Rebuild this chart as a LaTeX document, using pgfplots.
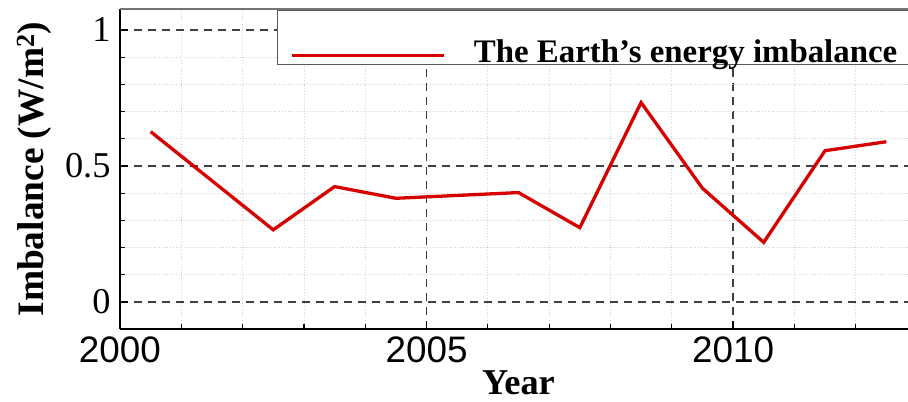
\documentclass[border=0pt]{standalone}
\usepackage{fontspec}
\setmainfont{Liberation Serif}
\newfontfamily\arialfont{Liberation Sans}
\usepackage{pgfplots}
\pgfplotsset{compat=1.18}
\definecolor{lineRed}{RGB}{214,0,0}

\begin{document}
\begin{tikzpicture}
\begin{axis}[
  at={(0,0)}, anchor=south west,
  scale only axis,
  width=797bp, height=320.1bp,
  xmin=2000, xmax=2013, ymin=-0.1, ymax=1.077,
  axis x line*=bottom, axis y line*=left,
  axis line style={-, black, line width=1.5bp},
  xtick={2000,2005,2010}, xticklabels={2000,2005,2010},
  ytick={0,0.5,1}, yticklabels={0,0.5,1},
  minor xtick={2001,2002,2003,2004,2006,2007,2008,2009,2011,2012},
  minor ytick={0.1,0.2,0.3,0.4,0.6,0.7,0.8,0.9},
  tick align=inside,
  major tick length=8bp, minor tick length=5bp,
  every tick/.style={black, line width=1.2bp},
  grid=both,
  major grid style={black!75, line width=1.2bp, dash pattern=on 8bp off 6bp},
  minor grid style={black!18, line width=0.8bp, dotted},
  xticklabel style={font=\arialfont\fontsize{37}{40}\selectfont, yshift=-4bp},
  yticklabel style={font=\fontsize{36.5}{40}\selectfont, xshift=-6bp},
  xlabel={\textbf{Year}},
  ylabel={\textbf{Imbalance (W/m\textsuperscript{2})}},
  xlabel style={font=\fontsize{36.5}{40}\selectfont, at={(axis description cs:0.5,-0.205)}, anchor=base},
  ylabel style={font=\fontsize{37.5}{40}\selectfont, at={(axis description cs:-0.0966,0.5)}, anchor=base},
  legend style={at={(axis description cs:0.197,0.9966)}, anchor=north west,
    draw=black!65, line width=1.2bp, fill=white,
    inner xsep=13bp, inner ysep=0bp,
    nodes={inner sep=0bp},
    /tikz/every odd column/.append style={column sep=28bp},
    font=\bfseries\fontsize{33}{36}\selectfont},
  legend cell align=left,
  legend image code/.code={\draw[#1] (0bp,-18bp) -- (152bp,-18bp);},
]
\addplot[lineRed, line width=3.3bp] coordinates {
  (2000.5,0.626) (2002.5,0.265) (2003.5,0.424) (2004.5,0.381)
  (2006.5,0.402) (2007.5,0.273) (2008.5,0.733) (2009.5,0.418)
  (2010.5,0.219) (2011.5,0.556) (2012.5,0.589)};
\addlegendentry{\rule[-17bp]{0pt}{69bp}The Earth’s energy imbalance\hspace*{20bp}}
\draw[black!55, line width=2bp] (rel axis cs:0,1) -- (rel axis cs:1,1);
\end{axis}
\pgfresetboundingbox
\path[use as bounding box] (-120bp,-72bp) rectangle (788bp,329.1bp);
\end{tikzpicture}
\end{document}
